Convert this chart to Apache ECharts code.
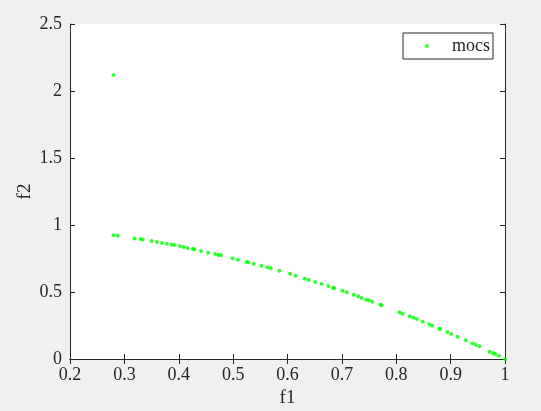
<!DOCTYPE html>
<html>
<head>
<meta charset="utf-8">
<script src="https://cdn.jsdelivr.net/npm/echarts@6/dist/echarts.min.js"></script>
<style>
html,body{margin:0;padding:0;background:#f0f0f0;}
#chart{width:541px;height:411px;}
</style>
</head>
<body>
<div id="chart"></div>
<script>
var seriesName = 'mocs';
var f1 = [0.280,0.280,0.288,0.319,0.330,0.334,0.350,0.360,0.369,0.378,0.387,0.392,0.402,0.409,0.416,0.426,0.429,0.441,0.454,0.467,0.473,0.478,0.499,0.509,0.525,0.528,0.538,0.552,0.563,0.569,0.585,0.605,0.615,0.632,0.639,0.651,0.663,0.675,0.684,0.686,0.701,0.709,0.722,0.730,0.736,0.745,0.750,0.756,0.771,0.773,0.806,0.812,0.825,0.832,0.838,0.849,0.861,0.866,0.879,0.881,0.894,0.901,0.913,0.928,0.940,0.946,0.953,0.972,0.978,0.982,0.989,1.000];
var f2 = [2.119,0.923,0.920,0.900,0.896,0.891,0.881,0.874,0.866,0.861,0.854,0.851,0.843,0.836,0.828,0.821,0.819,0.806,0.793,0.784,0.776,0.774,0.751,0.741,0.724,0.722,0.711,0.696,0.684,0.677,0.659,0.637,0.622,0.599,0.590,0.575,0.560,0.545,0.532,0.528,0.510,0.498,0.480,0.468,0.455,0.443,0.438,0.428,0.405,0.401,0.349,0.338,0.319,0.308,0.299,0.278,0.259,0.249,0.226,0.224,0.201,0.187,0.166,0.140,0.117,0.107,0.095,0.054,0.045,0.037,0.025,0.000];
var xTicks = ['0.2','0.3','0.4','0.5','0.6','0.7','0.8','0.9','1'];
var yTicks = ['0','0.5','1','1.5','2','2.5'];

var pts = f1.map(function(v,i){return [v,f2[i]];});
var font = 'Liberation Serif, Times New Roman, serif';
var ink = '#262626';
var axisCommon = {
  axisLine:{show:true,lineStyle:{color:ink,width:1}},
  axisTick:{show:true,inside:true,length:5,lineStyle:{color:ink,width:1}},
  splitLine:{show:false}
};
var chart = echarts.init(document.getElementById('chart'));
chart.setOption({
  backgroundColor:'#f0f0f0',
  animation:false,
  grid:{left:70,right:36,top:24,bottom:52,show:true,backgroundColor:'#ffffff',borderWidth:0,
    containLabel:false,outerBoundsMode:'none'},
  legend:{
    data:[seriesName],
    right:48, top:33,
    orient:'vertical',
    backgroundColor:'#ffffff',
    borderColor:ink, borderWidth:1, borderRadius:0,
    padding:[4,3,4,22],
    icon:'circle', itemWidth:4, itemHeight:4,
    textStyle:{fontFamily:font,fontSize:18,color:ink,padding:[0,0,0,18]}
  },
  xAxis:[
    Object.assign({type:'value',min:0.2,max:1,interval:0.1,position:'bottom',
      name:'f1',nameLocation:'middle',nameGap:30,nameMoveOverlap:false,
      nameTextStyle:{fontFamily:font,fontSize:19,color:ink},
      axisLabel:{fontFamily:font,fontSize:18,color:ink,margin:7,
        formatter:function(v){var s=Math.round(v*10)/10;return xTicks[Math.round((s-0.2)*10)];}}
    },axisCommon),
    Object.assign({type:'value',min:0.2,max:1,interval:0.1,position:'top',axisLabel:{show:false}},axisCommon)
  ],
  yAxis:[
    Object.assign({type:'value',min:0,max:2.5,interval:0.5,position:'left',
      name:'f2',nameLocation:'middle',nameGap:35,nameRotate:90,nameMoveOverlap:false,
      nameTextStyle:{fontFamily:font,fontSize:19,color:ink},
      axisLabel:{fontFamily:font,fontSize:18,color:ink,margin:8,
        formatter:function(v){return yTicks[Math.round(v*2)];}}
    },axisCommon),
    Object.assign({type:'value',min:0,max:2.5,interval:0.5,position:'right',axisLabel:{show:false}},axisCommon)
  ],
  series:[{
    name:seriesName,type:'scatter',xAxisIndex:0,yAxisIndex:0,
    data:pts,symbol:'circle',symbolSize:4,
    itemStyle:{color:'#00ff00'},
    clip:false
  }]
});
</script>
</body>
</html>
